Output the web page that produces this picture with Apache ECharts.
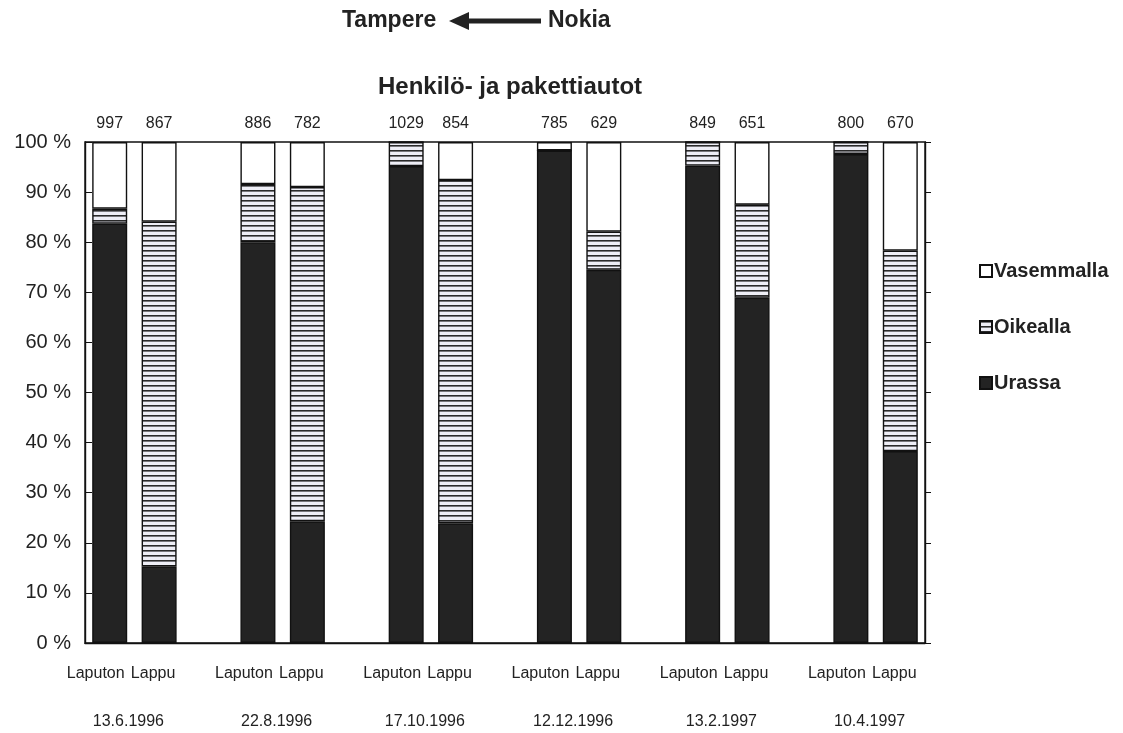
<!DOCTYPE html>
<html>
<head>
<meta charset="utf-8">
<script src="https://cdn.jsdelivr.net/npm/echarts@6/dist/echarts.min.js"></script>
<style>
  html, body { margin: 0; padding: 0; background: #fff; }
  #chart { width: 1123px; height: 733px; }
</style>
</head>
<body>
<div id="chart"></div>
<script>
// Survey dates; each date has a "Laputon" and a "Lappu" bar
const dates = ['13.6.1996', '22.8.1996', '17.10.1996', '12.12.1996', '13.2.1997', '10.4.1997'];
const barKinds = ['Laputon', 'Lappu'];

// Observed vehicle counts, order: Laputon, Lappu for each date
const counts = [997, 867, 886, 782, 1029, 854, 785, 629, 849, 651, 800, 670];

// Share of vehicles (%) in each position, same order as counts
const urassa     = [83.7, 15.3, 80.0, 24.3, 95.2, 23.9, 98.3, 74.5, 95.3, 68.9, 97.6, 38.3];
const oikealla   = [ 3.0, 68.8, 11.6, 66.7,  4.8, 68.5,  0.0,  7.6,  4.7, 18.6,  2.4, 40.0];
const vasemmalla = [13.3, 15.9,  8.4,  9.0,  0.0,  7.6,  1.7, 17.9,  0.0, 12.5,  0.0, 21.7];

const yTicks = [0, 10, 20, 30, 40, 50, 60, 70, 80, 90, 100];

// Lay the bars out as slots: two bars per date with an empty slot between dates
function toSlots(values) {
  const out = [];
  for (let g = 0; g < dates.length; g++) {
    out.push(values[g * 2], values[g * 2 + 1]);
    if (g < dates.length - 1) out.push(null);
  }
  return out;
}
const slotNames = toSlots(dates.flatMap(() => barKinds)).map(v => v == null ? '' : v);
const slotCounts = toSlots(counts).map(v => v == null ? '' : String(v));

// Horizontal hatch fill for the "Oikealla" segments
function hatch() {
  const c = document.createElement('canvas');
  c.width = 8; c.height = 5;
  const ctx = c.getContext('2d');
  ctx.fillStyle = '#eeeef6';
  ctx.fillRect(0, 0, 8, 5);
  ctx.fillStyle = '#2a2a2a';
  ctx.fillRect(0, 0, 8, 1.6);
  return c;
}
const hatchFill = { image: hatch(), repeat: 'repeat' };

const txt = '#222';
const font = 'Liberation Sans, Arial, sans-serif';
const border = { borderColor: '#111', borderWidth: 1.4 };

const chart = echarts.init(document.getElementById('chart'));
chart.setOption({
  backgroundColor: '#fff',
  animation: false,
  textStyle: { fontFamily: font, color: txt },
  grid: { left: 85, right: 198, top: 142, bottom: 90, show: true, borderColor: '#111', borderWidth: 1.4, backgroundColor: 'transparent' },
  legend: {
    orient: 'vertical',
    left: 974, top: 256,
    itemGap: 36,
    itemWidth: 12, itemHeight: 12,
    data: ['Vasemmalla', 'Oikealla', 'Urassa'],
    textStyle: { fontFamily: font, fontSize: 20, fontWeight: 'bold', color: txt, padding: [0, 0, 0, -3] },
    icon: 'rect'
  },
  xAxis: [
    {
      type: 'category', data: slotNames, position: 'bottom',
      axisLine: { lineStyle: { color: '#111', width: 1.4 } },
      axisTick: { inside: true, length: 6, lineStyle: { color: '#111' } },
      axisLabel: {
        interval: 0, margin: 23, color: txt, fontFamily: font,
        formatter: v => (v === 'Laputon' ? '{a|' + v + '}' : v === 'Lappu' ? '{b|' + v + '}' : v),
        rich: {
          a: { fontSize: 16, fontFamily: font, color: txt, padding: [0, 28, 0, 0] },
          b: { fontSize: 16, fontFamily: font, color: txt, padding: [0, 12, 0, 0] }
        }
      }
    },
    {
      type: 'category', data: slotCounts, position: 'top',
      axisLine: { show: false }, axisTick: { show: false },
      axisLabel: { interval: 0, margin: 10, fontSize: 16, color: txt, fontFamily: font }
    },
    {
      // date labels centred under each pair of bars
      type: 'value', min: 0, max: slotNames.length, interval: 1, position: 'bottom',
      axisLine: { show: false }, axisTick: { show: false }, splitLine: { show: false },
      axisLabel: {
        margin: 71, color: txt, fontFamily: font,
        formatter: v => (v % 3 === 1 ? '{d|' + dates[(v - 1) / 3] + '}' : ''),
        rich: { d: { fontSize: 16, fontFamily: font, color: txt, padding: [0, 12, 0, 0] } }
      }
    }
  ],
  yAxis: [
    {
      type: 'value', min: yTicks[0], max: yTicks[yTicks.length - 1], interval: 10,
      axisLine: { show: true, lineStyle: { color: '#111', width: 1.4 } },
      axisTick: { show: true, inside: true, length: 7, lineStyle: { color: '#111' } },
      splitLine: { show: false },
      axisLabel: { margin: 14, fontSize: 20, color: txt, fontFamily: font, formatter: v => v + ' %' }
    },
    {
      type: 'value', min: yTicks[0], max: yTicks[yTicks.length - 1], interval: 10, position: 'right',
      axisLine: { show: true, lineStyle: { color: '#111', width: 1.4 } },
      axisTick: { show: true, inside: false, length: 6, lineStyle: { color: '#111' } },
      splitLine: { show: false },
      axisLabel: { show: false }
    }
  ],
  series: [
    {
      name: 'Urassa', type: 'bar', stack: 'p', barWidth: 35,
      itemStyle: Object.assign({ color: '#232323' }, border),
      data: toSlots(urassa)
    },
    {
      name: 'Oikealla', type: 'bar', stack: 'p', barWidth: 35,
      itemStyle: Object.assign({ color: hatchFill }, border),
      data: toSlots(oikealla)
    },
    {
      name: 'Vasemmalla', type: 'bar', stack: 'p', barWidth: 35,
      itemStyle: Object.assign({ color: '#ffffff' }, border),
      data: toSlots(vasemmalla)
    }
  ],
  graphic: [
    { type: 'text', left: 342, top: 9, style: { text: 'Tampere', font: 'bold 23px ' + font, fill: txt } },
    { type: 'line', shape: { x1: 464, y1: 21, x2: 541, y2: 21 }, style: { stroke: '#222', lineWidth: 5 } },
    { type: 'polygon', shape: { points: [[449, 21], [469, 12], [469, 30]] }, style: { fill: '#222' } },
    { type: 'text', left: 548, top: 9, style: { text: 'Nokia', font: 'bold 23px ' + font, fill: txt } },
    { type: 'text', left: 378, top: 75, style: { text: 'Henkilö- ja pakettiautot', font: 'bold 24px ' + font, fill: txt } }
  ]
});
</script>
</body>
</html>
